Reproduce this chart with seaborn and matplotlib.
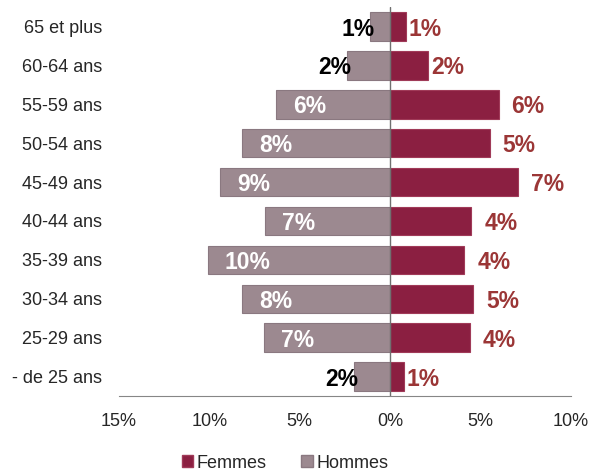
import matplotlib
matplotlib.use("Agg")
import matplotlib.pyplot as plt
import pandas as pd
import seaborn as sns

# age groups, top to bottom
ages = ["65 et plus", "60-64 ans", "55-59 ans", "50-54 ans", "45-49 ans",
        "40-44 ans", "35-39 ans", "30-34 ans", "25-29 ans", "- de 25 ans"]
# share of staff (%)
hommes = [1.1, 2.4, 6.3, 8.2, 9.4, 6.9, 10.1, 8.2, 7.0, 2.0]
femmes = [0.85, 2.1, 6.0, 5.5, 7.1, 4.5, 4.1, 4.6, 4.4, 0.75]
# rounded labels as printed on the chart
hommes_lbl = ["1%", "2%", "6%", "8%", "9%", "7%", "10%", "8%", "7%", "2%"]
femmes_lbl = ["1%", "2%", "6%", "5%", "7%", "4%", "4%", "5%", "4%", "1%"]
xticks = [-15, -10, -5, 0, 5, 10]

C_F = "#8b1f41"
C_H = "#9c8990"
C_LBL_F = "#9b3636"
EDGE_F = "#a03a58"
EDGE_H = "#8a7880"

df = pd.concat([
    pd.DataFrame({"age": ages, "sexe": "Femmes", "pct": femmes}),
    pd.DataFrame({"age": ages, "sexe": "Hommes", "pct": [-v for v in hommes]}),
])

sns.set_style("white")
plt.rcParams["font.family"] = ["Liberation Sans", "DejaVu Sans"]

fig = plt.figure(figsize=(5.91, 4.72), dpi=100)
ax = fig.add_axes([0.2014, 0.161, 0.7646, 0.824])

sns.barplot(data=df, x="pct", y="age", hue="sexe", order=ages,
            hue_order=["Femmes", "Hommes"], palette={"Femmes": C_F, "Hommes": C_H},
            dodge=False, orient="h", width=0.73, ax=ax, legend=False,
            saturation=1)
# barh with negative widths keeps x at 0, so test the width
for bar in ax.patches:
    bar.set_edgecolor(EDGE_H if bar.get_width() < 0 else EDGE_F)
    bar.set_linewidth(0.8)

ax.axvline(0, color="#707070", lw=1, zorder=5)

px = 0.72  # points per pixel
for i, (vh, vf, lh, lf) in enumerate(zip(hommes, femmes, hommes_lbl, femmes_lbl)):
    if vh >= 5:
        ax.annotate(lh, (-vh, i), xytext=(17 * px, 0), textcoords="offset points",
                    ha="left", va="center_baseline", color="white",
                    fontsize=16.5, fontweight="bold")
    else:
        ax.annotate(lh, (-vh, i), xytext=(4 * px, 0), textcoords="offset points",
                    ha="right", va="center_baseline", color="black",
                    fontsize=16.5, fontweight="bold")
    off = 3 if vf < 3 else 13
    ax.annotate(lf, (vf, i), xytext=(off * px, 0), textcoords="offset points",
                ha="left", va="center_baseline", color=C_LBL_F,
                fontsize=16.5, fontweight="bold")

ax.set_xlim(-15, 10)
ax.set_ylim(len(ages) - 0.5, -0.5)
ax.set_xticks(xticks)
ax.set_xticklabels([f"{abs(t)}%" for t in xticks])
ax.set_xlabel("")
ax.set_ylabel("")
for s in ["top", "right", "left"]:
    ax.spines[s].set_visible(False)
ax.spines["bottom"].set_color("#868686")
ax.tick_params(axis="x", direction="out", length=6, color="#868686", labelsize=13, pad=6)
ax.tick_params(axis="y", length=0, labelsize=13, pad=12)

handles = [plt.Rectangle((0, 0), 1, 1, fc=C_F, ec=EDGE_F),
           plt.Rectangle((0, 0), 1, 1, fc=C_H, ec=EDGE_H)]
fig.legend(handles, ["Femmes", "Hommes"], loc="center", ncol=2,
           bbox_to_anchor=(285 / 591, 1 - 463 / 472), frameon=False, fontsize=13,
           handlelength=0.65, handleheight=0.65, handletextpad=0.2, columnspacing=1.9)

fig.savefig("out.png", dpi=100)
